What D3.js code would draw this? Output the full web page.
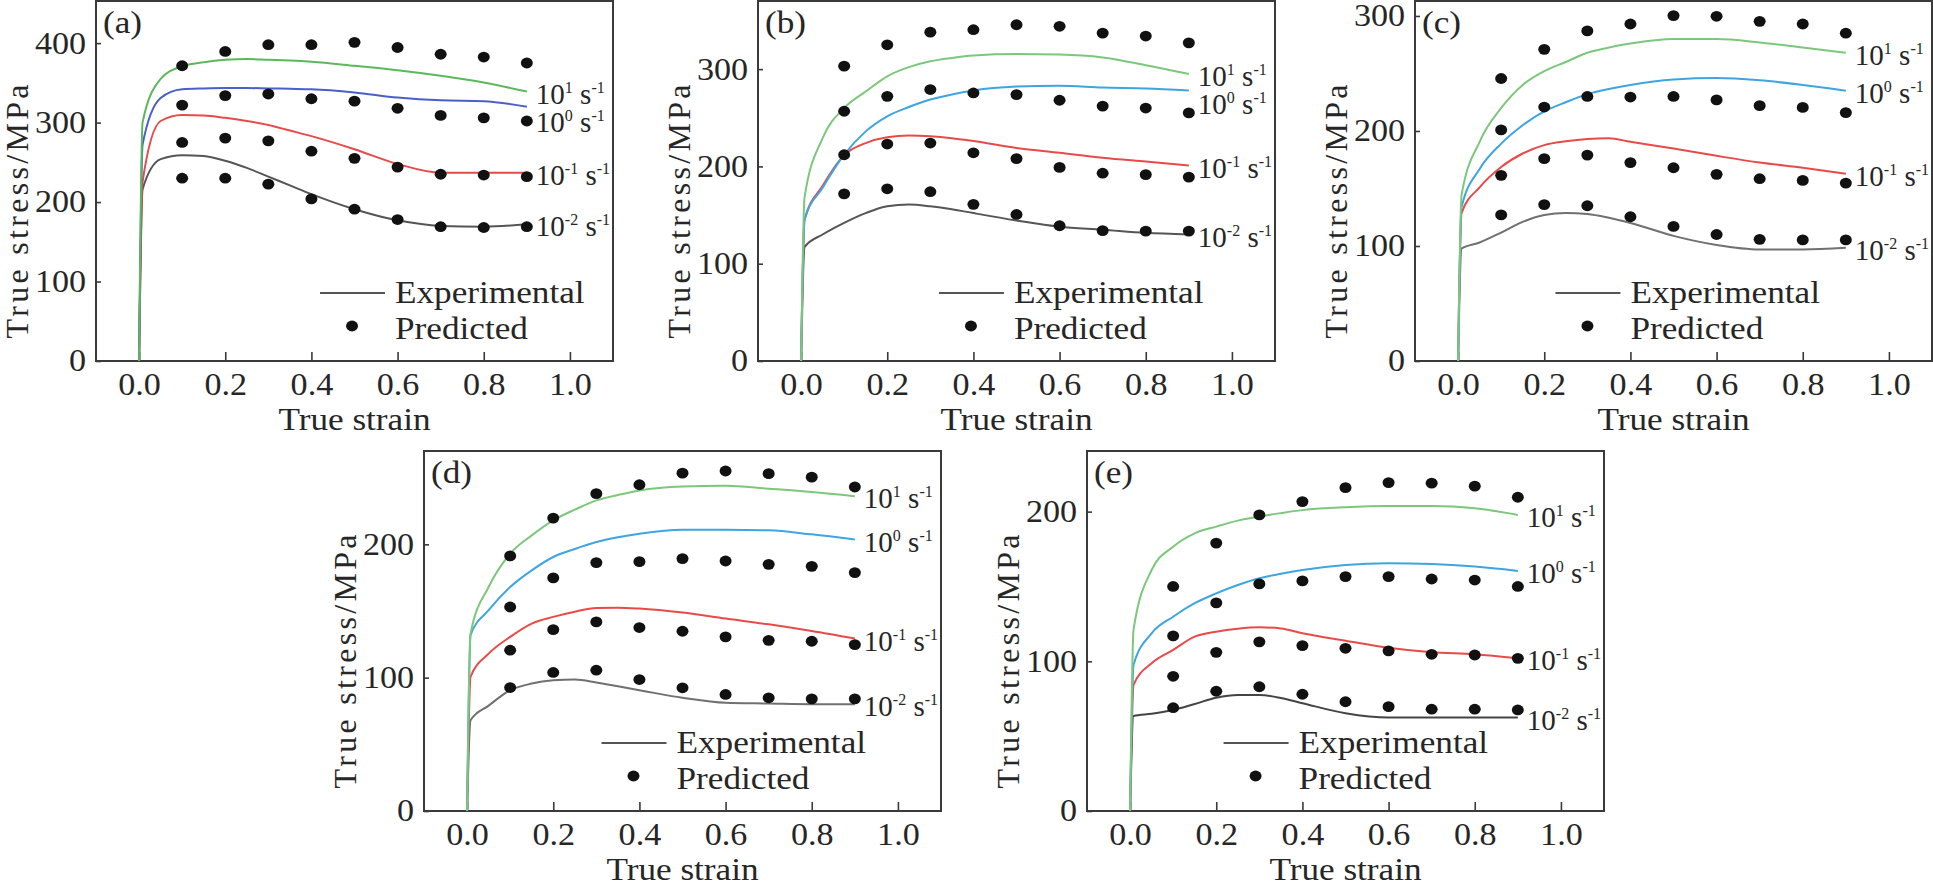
<!DOCTYPE html>
<html>
<head>
<meta charset="utf-8">
<script src="https://cdn.jsdelivr.net/npm/d3@7"></script>
<style>
  body { margin: 0; background: #fff; }
  svg { display: block; }
</style>
</head>
<body>
<svg id="chart" width="1933" height="882"></svg>
<script>
// strain points where the experimental curves were read
var strainGrid = [0, 0.008, 0.05, 0.1, 0.15, 0.2, 0.25, 0.3, 0.35, 0.4, 0.5, 0.6, 0.7, 0.8, 0.9];
// strain points of the predicted values
var predStrain = [0.1, 0.2, 0.3, 0.4, 0.5, 0.6, 0.7, 0.8, 0.9];
var rateExp = ["1", "0", "-1", "-2"];

// (a)
var aExp1  = [0, 300, 355, 371, 376, 379, 380, 379, 378, 376.5, 371.5, 366, 359, 350.5, 339];
var aExp0  = [0, 272, 331, 342, 343, 343.5, 343.5, 343, 342.5, 342, 338, 331.5, 328, 327, 320];
var aExpM1 = [0, 225, 302, 309.5, 309, 306, 302, 297, 290, 283, 266.5, 248, 237, 237, 237];
var aExpM2 = [0, 216, 254, 259, 258, 252, 243, 232, 221, 210, 191, 177, 170, 169, 172];
var aPre1  = [371.5, 389.5, 398, 398, 401, 394.5, 386, 382.5, 375];
var aPre0  = [322, 334, 336, 330, 327, 318, 309, 306, 302];
var aPreM1 = [275, 280.5, 277, 264, 255, 244, 235, 234, 232];
var aPreM2 = [230, 230, 222.5, 204, 191, 178, 169, 168, 169];

// (b)
var bExp1  = [0, 168, 229, 260, 277, 292.6, 302, 308, 311.5, 314, 315.5, 315, 312, 304, 295];
var bExp0  = [0, 145, 178, 212, 236, 251.5, 261, 268.7, 274, 278, 282, 283, 281, 280, 278];
var bExpM1 = [0, 145, 180, 211.5, 224, 230, 231.7, 231, 229, 226, 219, 214, 209, 205, 201];
var bExpM2 = [0, 117, 130, 142, 152, 159, 160.8, 159, 156, 152, 144.4, 138, 135, 131.7, 130];
var bPre1  = [303, 325, 338, 340.5, 345.6, 344, 337, 334, 327];
var bPre0  = [256.7, 272, 279, 275.5, 273.8, 268, 262, 260, 255];
var bPreM1 = [212, 223, 224, 214, 208, 199, 193, 191.6, 189];
var bPreM2 = [171.8, 177, 174, 161, 150.6, 139, 134, 133.5, 133.5];

// (c)
var cExp1  = [0, 144, 190.6, 220, 240, 252, 260, 268, 272.5, 276, 280, 280, 277, 272.5, 268];
var cExp0  = [0, 133.6, 167, 189, 205, 217, 225, 232, 236.5, 240, 244.7, 246, 244, 240, 235];
var cExpM1 = [0, 128.6, 151, 168.7, 180.4, 187.7, 191, 193, 193.6, 190.6, 184.8, 178.4, 172.5, 168, 162.9];
var cExpM2 = [0, 97.7, 103, 111.7, 121, 127, 128.7, 127.8, 124.5, 120, 108.8, 100.9, 97, 97, 98.5];
var cPre1  = [245.6, 271, 287, 293, 300.3, 299.7, 295.3, 293, 285];
var cPre0  = [200.9, 220.8, 230, 229.5, 230, 227, 222, 220.5, 216];
var cPreM1 = [161.4, 176, 179, 172.5, 168, 162.3, 158.5, 157, 154.7];
var cPreM2 = [127, 136, 135, 125.4, 117, 110, 105.8, 105.3, 105.3];

// (d)
var dExp1  = [0, 133, 168, 193, 206.7, 218, 226, 233, 237, 240.4, 243.4, 244, 241.7, 239.2, 236];
var dExp0  = [0, 131.8, 150.6, 168, 180.5, 190.5, 196.5, 201.7, 205.3, 208, 211, 211, 210.5, 207.5, 203.7];
var dExpM1 = [0, 100.6, 118, 130.6, 140.6, 145.6, 149.5, 152.3, 152.5, 151.8, 148.8, 144.3, 140, 135, 129.3];
var dExpM2 = [0, 68, 79, 90.6, 95.6, 98, 98.6, 96.4, 93.5, 90.6, 84.9, 81.1, 80.6, 80.1, 80.1];
var dPre1  = [191.3, 219.7, 238, 244.7, 253.4, 255, 253, 250.4, 243];
var dPre0  = [153, 174.8, 186.3, 187, 189.3, 187.5, 185, 183.5, 178.8];
var dPreM1 = [120.6, 136, 141.8, 137.6, 134.8, 130.6, 128, 127.3, 124.8];
var dPreM2 = [92.6, 103.9, 105.6, 98.6, 92.4, 87.4, 84.9, 84.1, 84.1];

// (e)
var eExp1  = [0, 121, 161, 176.6, 185.5, 190, 194, 196.7, 199, 201, 203, 203.8, 203.8, 202.2, 197.8];
var eExp0  = [0, 97.5, 118.7, 129.8, 138.8, 145.4, 151, 155.5, 158.5, 161, 164.4, 165.5, 165, 163.3, 160.4];
var eExpM1 = [0, 84.2, 98.7, 107.6, 116.5, 119.8, 121.8, 122.7, 122, 118.7, 113.8, 109, 106, 104.7, 102];
var eExpM2 = [0, 63.5, 65, 67.5, 71.5, 75.7, 77.5, 77.5, 75.5, 72, 65.3, 62.4, 62.4, 62.4, 62.4];
var ePre1  = [150, 179, 197.8, 206.7, 216, 219.4, 219, 217, 209.6];
var ePre0  = [117, 139, 151.7, 153.7, 156.6, 156.6, 155, 154.3, 150];
var ePreM1 = [90, 106, 113, 110.5, 108.7, 107, 104.7, 104.2, 102];
var ePreM2 = [69, 80, 83, 78, 73, 69.7, 68, 68, 67.5];

var xTicks = [0, 0.2, 0.4, 0.6, 0.8, 1.0];

var W = 517, H = 360;
var STRETCH = 1.1;
var FONT = '"Liberation Serif", Tinos, "Times New Roman", Times, "Nimbus Roman", "DejaVu Serif", serif';

var panels = [
  { tag: "(a)", left: 96,   top: 1,   ymax: 453, yTicks: [0, 100, 200, 300, 400],
    exp: [aExp1, aExp0, aExpM1, aExpM2], pre: [aPre1, aPre0, aPreM1, aPreM2],
    colors: ["#5cb85c", "#4a5fc8", "#e84a4a", "#555555"], legendX: 0.42 },
  { tag: "(b)", left: 758,  top: 1,   ymax: 370, yTicks: [0, 100, 200, 300],
    exp: [bExp1, bExp0, bExpM1, bExpM2], pre: [bPre1, bPre0, bPreM1, bPreM2],
    colors: ["#7cc77c", "#3da5e0", "#e84a4a", "#555555"], legendX: 0.32 },
  { tag: "(c)", left: 1415, top: 1,   ymax: 313, yTicks: [0, 100, 200, 300],
    exp: [cExp1, cExp0, cExpM1, cExpM2], pre: [cPre1, cPre0, cPreM1, cPreM2],
    colors: ["#7cc77c", "#3da5e0", "#e84a4a", "#707070"], legendX: 0.226 },
  { tag: "(d)", left: 424,  top: 451, ymax: 270, yTicks: [0, 100, 200],
    exp: [dExp1, dExp0, dExpM1, dExpM2], pre: [dPre1, dPre0, dPreM1, dPreM2],
    colors: ["#7cc77c", "#3da5e0", "#e84a4a", "#707070"], legendX: 0.312 },
  { tag: "(e)", left: 1087, top: 451, ymax: 240.5, yTicks: [0, 100, 200],
    exp: [eExp1, eExp0, eExpM1, eExpM2], pre: [ePre1, ePre0, ePreM1, ePreM2],
    colors: ["#7cc77c", "#3da5e0", "#e84a4a", "#444444"], legendX: 0.217 }
];

var svg = d3.select("#chart");

function stretchedText(g, x, y, str, size, anchor) {
  return g.append("text")
    .attr("transform", "translate(" + x + "," + y + ") scale(" + STRETCH + ",1)")
    .attr("text-anchor", anchor || "start")
    .attr("fill", "#262626")
    .style("font-family", FONT)
    .style("font-size", size + "px")
    .text(str);
}

function drawPanel(p) {
  var g = svg.append("g").attr("transform", "translate(" + p.left + "," + p.top + ")");

  var x = d3.scaleLinear().domain([-0.1, 1.1]).range([0, W]);
  var y = d3.scaleLinear().domain([0, p.ymax]).range([H, 0]);

  // axes, ticks pointing inward
  var xAxis = g.append("g")
    .attr("transform", "translate(0," + H + ")")
    .call(d3.axisBottom(x).tickValues(xTicks).tickFormat(d3.format(".1f"))
      .tickSizeInner(-9).tickSizeOuter(0).tickPadding(12));
  var yAxis = g.append("g")
    .call(d3.axisLeft(y).tickValues(p.yTicks).tickFormat(d3.format("d"))
      .tickSizeInner(-5).tickSizeOuter(0).tickPadding(9));

  [xAxis, yAxis].forEach(function (ax) {
    ax.attr("font-family", null).attr("font-size", null);
    ax.select(".domain").remove();
    ax.selectAll(".tick line").attr("stroke", "#3a3a3a").attr("stroke-width", 1.6);
    ax.selectAll(".tick text")
      .style("font-family", FONT)
      .style("font-size", "31px")
      .attr("fill", "#262626")
      .attr("transform", "scale(" + STRETCH + ",1)");
  });

  // frame
  g.append("rect")
    .attr("width", W).attr("height", H)
    .attr("fill", "none").attr("stroke", "#3a3a3a").attr("stroke-width", 2);

  // experimental curves
  var line = d3.line()
    .x(function (d) { return x(d[0]); })
    .y(function (d) { return y(d[1]); })
    .curve(d3.curveMonotoneX);

  for (var k = p.exp.length - 1; k >= 0; k--) {
    var pts = strainGrid.map(function (s, i) { return [s, p.exp[k][i]]; });
    g.append("path")
      .attr("d", line(pts))
      .attr("fill", "none")
      .attr("stroke", p.colors[k])
      .attr("stroke-width", 2);
  }

  // predicted points
  p.pre.forEach(function (arr) {
    g.selectAll(null)
      .data(arr.map(function (v, i) { return [predStrain[i], v]; }))
      .enter().append("ellipse")
      .attr("cx", function (d) { return x(d[0]); })
      .attr("cy", function (d) { return y(d[1]); })
      .attr("rx", 6).attr("ry", 5.4)
      .attr("fill", "#111");
  });

  // strain rate labels at the end of each curve, pushed apart when crowded
  var last = strainGrid.length - 1;
  var prev = -Infinity;
  p.exp.forEach(function (arr, k) {
    var ly = Math.max(y(arr[last]) + 2, prev + 28);
    prev = ly;
    var t = g.append("text")
      .attr("transform", "translate(" + (x(0.9) + 9) + "," + ly + ")")
      .attr("dy", "0.35em")
      .attr("fill", "#262626")
      .style("font-family", FONT)
      .style("font-size", "29px");
    t.append("tspan").text("10");
    t.append("tspan").attr("dy", -11).style("font-size", "16px").text(rateExp[k]);
    t.append("tspan").attr("dy", 11).style("font-size", "29px").text(" s");
    t.append("tspan").attr("dy", -11).style("font-size", "16px").text("-1");
  });

  // legend
  var lx = x(p.legendX);
  g.append("line")
    .attr("x1", lx).attr("x2", lx + 65)
    .attr("y1", 292).attr("y2", 292)
    .attr("stroke", "#555").attr("stroke-width", 2);
  g.append("ellipse")
    .attr("cx", lx + 32).attr("cy", 325)
    .attr("rx", 6).attr("ry", 5.4).attr("fill", "#111");
  stretchedText(g, lx + 75, 302, "Experimental", 32);
  stretchedText(g, lx + 75, 338, "Predicted", 32);

  // panel tag
  stretchedText(g, 7, 32, p.tag, 32);

  // axis titles
  stretchedText(g, W / 2, H + 69, "True strain", 32, "middle");
  g.append("text")
    .attr("transform", "translate(-68," + (H * 0.58) + ") rotate(-90)")
    .attr("text-anchor", "middle")
    .attr("fill", "#262626")
    .style("font-family", FONT)
    .style("font-size", "32px")
    .style("letter-spacing", "3.3px")
    .text("True stress/MPa");
}

panels.forEach(drawPanel);
</script>
</body>
</html>
